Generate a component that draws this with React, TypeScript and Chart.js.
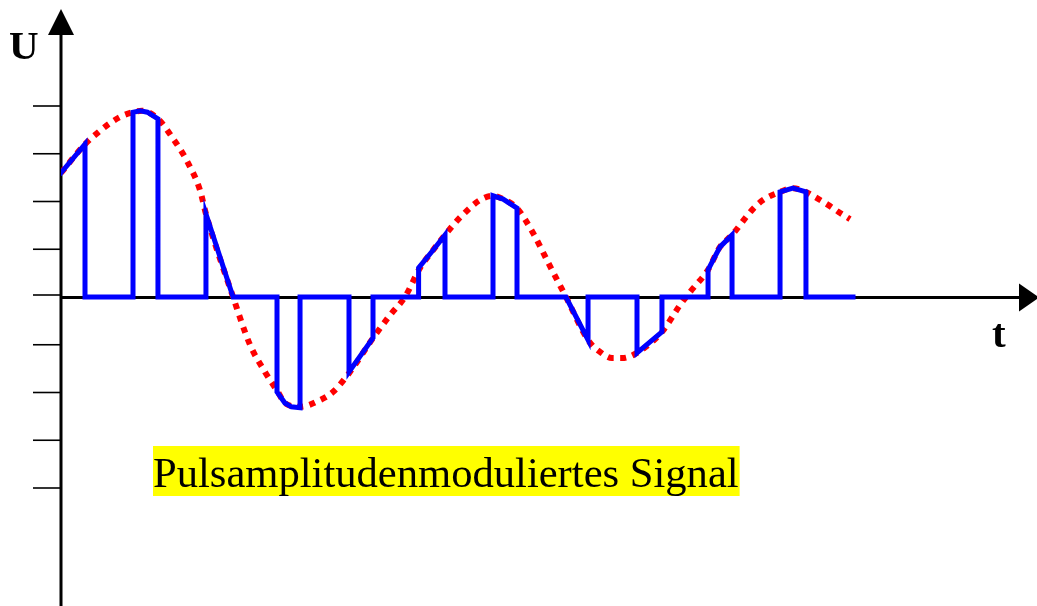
import React, { useEffect, useRef } from "react";
import { Chart, registerables } from "chart.js";

Chart.register(...registerables);

// Time axis in pulse-width units, voltage in tick units
const carrierT = [0, 1, 1.625, 2.04, 2.54, 3.0, 3.375, 4.04, 4.625, 5.29, 5.79, 6.04, 7.17, 7.875, 8.5, 9.04, 9.33, 9.96, 10.79, 11.33, 12.04, 13.0, 13.71, 14.33, 14.96, 15.5, 16.0, 16.6, 17.46, 18.0, 18.42, 19.0, 19.67, 20.29, 21.04, 21.96, 22.46, 22.96, 23.375, 24.0, 25.04, 25.79, 26.2, 26.96, 27.46, 27.96, 28.79, 29.25, 29.96, 30.5, 31.04, 31.5, 31.96, 32.4, 32.875];
const carrierU = [2.6, 3.2, 3.48, 3.64, 3.79, 3.87, 3.9, 3.73, 3.35, 2.81, 2.24, 1.74, 0, -1.0, -1.57, -1.99, -2.22, -2.3, -2.16, -1.99, -1.57, -0.86, -0.38, 0, 0.61, 0.98, 1.3, 1.65, 2.03, 2.12, 2.05, 1.86, 1.34, 0.73, 0, -0.9, -1.15, -1.28, -1.28, -1.17, -0.73, -0.17, 0.1, 0.57, 1.05, 1.3, 1.82, 2.03, 2.2, 2.28, 2.2, 2.07, 1.93, 1.78, 1.63];

const pamT = [0, 1, 1, 3, 3, 3.3, 3.6, 4.04, 4.04, 6.04, 6.04, 7.17, 9.0, 9.0, 9.33, 9.6, 9.96, 9.96, 12.0, 12.0, 13.0, 13.0, 14.9, 14.9, 15.5, 16.0, 16.0, 18.0, 18.0, 18.42, 19.0, 19.0, 21.04, 21.96, 21.96, 24.0, 24.0, 25.04, 25.04, 26.96, 26.96, 27.46, 27.96, 27.96, 29.96, 29.96, 30.5, 31.04, 31.04, 33.0];
const pamU = [2.6, 3.2, 0, 0, 3.87, 3.9, 3.87, 3.73, 0, 0, 1.74, 0, 0, -1.99, -2.22, -2.3, -2.32, 0, 0, -1.57, -0.86, 0, 0, 0.61, 0.98, 1.3, 0, 0, 2.12, 2.05, 1.86, 0, 0, -0.9, 0, 0, -1.17, -0.73, 0, 0, 0.57, 1.05, 1.3, 0, 0, 2.2, 2.28, 2.2, 0, 0];

const yTicks = [-4, -3, -2, -1, 0, 1, 2, 3, 4];
const yAxisLabel = "U";
const xAxisLabel = "t";
const caption = "Pulsamplitudenmoduliertes Signal";

const X_MIN = 0;
const X_MAX = 976 / 24;
const Y_MAX = 287 / 47.75;
const Y_MIN = -309 / 47.75;

const axesPlugin = {
  id: "pamAxes",
  beforeDatasetsDraw(chart: any) {
    const ctx = chart.ctx;
    const xs = chart.scales.x;
    const ys = chart.scales.y;
    const x0 = xs.getPixelForValue(0);
    const y0 = ys.getPixelForValue(0);
    ctx.save();
    ctx.strokeStyle = "#000";
    ctx.fillStyle = "#000";
    // y axis
    ctx.lineWidth = 3;
    ctx.beginPath();
    ctx.moveTo(x0, chart.height);
    ctx.lineTo(x0, 30);
    ctx.stroke();
    // x axis
    ctx.beginPath();
    ctx.moveTo(x0, y0 + 0.5);
    ctx.lineTo(1022, y0 + 0.5);
    ctx.stroke();
    // ticks
    ctx.lineWidth = 1.6;
    yTicks.forEach((v) => {
      const py = ys.getPixelForValue(v) - (v === 0 ? 2 : 0);
      ctx.beginPath();
      ctx.moveTo(33, py);
      ctx.lineTo(x0, py);
      ctx.stroke();
    });
    // arrows
    ctx.beginPath();
    ctx.moveTo(x0, 9);
    ctx.lineTo(x0 + 13, 35);
    ctx.lineTo(x0 - 13, 35);
    ctx.closePath();
    ctx.fill();
    ctx.beginPath();
    ctx.moveTo(1039, y0 + 0.5);
    ctx.lineTo(1019, y0 - 13.5);
    ctx.lineTo(1019, y0 + 14.5);
    ctx.closePath();
    ctx.fill();
    // axis labels
    ctx.font = "bold 41px 'Liberation Serif'";
    ctx.textBaseline = "alphabetic";
    ctx.textAlign = "left";
    ctx.fillText(yAxisLabel, 9, 59);
    ctx.fillText(xAxisLabel, 992, 347);
    ctx.restore();
  },
  afterDatasetsDraw(chart: any) {
    const ctx = chart.ctx;
    ctx.save();
    ctx.font = "42.6px 'Liberation Serif'";
    const w = ctx.measureText(caption).width;
    ctx.fillStyle = "#ffff00";
    ctx.fillRect(153, 446, w + 1, 50);
    ctx.fillStyle = "#000";
    ctx.textBaseline = "alphabetic";
    ctx.fillText(caption, 153, 487);
    ctx.restore();
  },
};

export default function App() {
  const ref = useRef<HTMLCanvasElement>(null);
  useEffect(() => {
    if (!ref.current) return;
    const chart = new Chart(ref.current, {
      type: "line",
      data: {
        datasets: [
          {
            label: "PAM",
            data: pamT.map((t, i) => ({ x: t, y: pamU[i] })),
            borderColor: "#0000ff",
            borderWidth: 5,
            pointRadius: 0,
            tension: 0,
            fill: false,
            borderJoinStyle: "miter",
            borderCapStyle: "square",
            order: 1,
          },
          {
            label: "Signal",
            data: carrierT.map((t, i) => ({ x: t, y: carrierU[i] })),
            borderColor: "#ff0000",
            borderWidth: 6,
            borderDash: [6, 6.5],
            pointRadius: 0,
            tension: 0.4,
            cubicInterpolationMode: "monotone",
            fill: false,
            order: 2,
          },
        ],
      },
      plugins: [axesPlugin],
      options: {
        animation: false,
        responsive: false,
        events: [],
        layout: { padding: { left: 61, right: 0, top: 10, bottom: 0 } },
        plugins: { legend: { display: false }, tooltip: { enabled: false } },
        scales: {
          x: { type: "linear", display: false, min: X_MIN, max: X_MAX },
          y: { type: "linear", display: false, min: Y_MIN, max: Y_MAX },
        },
      } as any,
    });
    return () => chart.destroy();
  }, []);
  return (
    <div style={{ position: "absolute", left: 0, top: 0, width: 1037, height: 606, background: "#fff" }}>
      <canvas ref={ref} width={1037} height={606} style={{ display: "block" }} />
    </div>
  );
}
